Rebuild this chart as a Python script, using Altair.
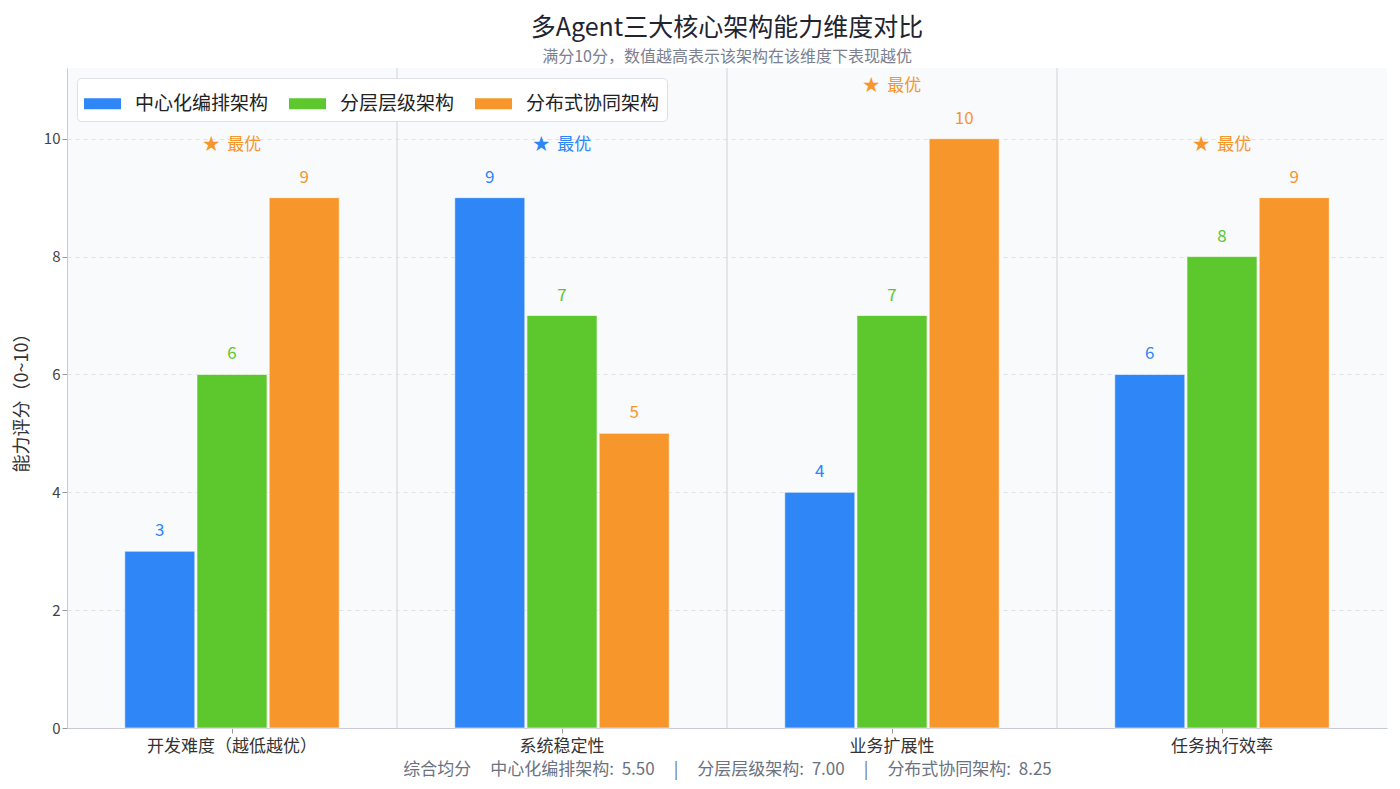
import altair as alt
import pandas as pd

dims = ["开发难度（越低越优）", "系统稳定性", "业务扩展性", "任务执行效率"]
archs = ["中心化编排架构", "分层层级架构", "分布式协同架构"]
colors = ["#2E86F7", "#5DC72E", "#F7962A"]
centralized = [3, 9, 4, 6]
hierarchical = [6, 7, 7, 8]
distributed = [9, 5, 10, 9]

series = [centralized, hierarchical, distributed]
rows = []
for a, vals in zip(archs, series):
    for d, v in zip(dims, vals):
        rows.append({"dim": d, "arch": a, "score": v})
df = pd.DataFrame(rows)

NB = "\u00a0"
best = []
for i, d in enumerate(dims):
    vals = [s[i] for s in series]
    k = vals.index(max(vals))
    best.append({"dim": d, "top": max(vals) + 0.9, "label": "★" + NB * 2 + "最优", "arch": archs[k]})
best_df = pd.DataFrame(best)

# 综合均分
means = [sum(s) / len(s) for s in series]
sep = NB * 5 + "|" + NB * 5
footer = "综合均分" + NB * 5 + sep.join(f"{a}:{NB * 2}{m:.2f}" for a, m in zip(archs, means))

FONT = "Noto Sans CJK SC"
color_scale = alt.Scale(domain=archs, range=colors)
x_enc = alt.X("dim:N", sort=dims, scale=alt.Scale(paddingInner=0, paddingOuter=0),
              axis=alt.Axis(title=footer, labelAngle=0, labelAlign="center", labelBaseline="top",
                            labelFontSize=17, labelColor="#333",
                            titleFontSize=17, titleColor="#6b7280", titleFontWeight="normal",
                            titlePadding=7, domainColor="#c8ccd2", tickColor="#999",
                            labelPadding=5, grid=False))
y_scale = alt.Scale(domain=[0, 11.2], nice=False)

base = alt.Chart(df)

bars = base.mark_bar(stroke="#ffffff", strokeWidth=1, strokeOpacity=0.6).encode(
    x=x_enc,
    xOffset=alt.XOffset("arch:N", sort=archs,
                        scale=alt.Scale(paddingInner=0.03, paddingOuter=0.8)),
    y=alt.Y("score:Q", scale=y_scale,
            axis=alt.Axis(title="能力评分（0~10）", values=[0, 2, 4, 6, 8, 10], format="d",
                          titleFontSize=18, titleColor="#333", titleFontWeight="normal",
                          labelFontSize=15, labelColor="#444", gridDash=[4, 4],
                          gridColor="#dde1e6", domainColor="#c8ccd2", tickColor="#999",
                          titlePadding=12)),
    color=alt.Color("arch:N", sort=archs, scale=color_scale,
                    legend=alt.Legend(title=None, orient="top-left", direction="horizontal",
                                      labelFontSize=19, labelColor="#222", labelFont=FONT,
                                      symbolType="M-1,-0.3H1V0.3H-1Z", symbolSize=1369,
                                      symbolOpacity=1, symbolStrokeWidth=0,
                                      labelOffset=14, columnPadding=20,
                                      fillColor="#ffffff", strokeColor="#dde1e6",
                                      cornerRadius=4, padding=7, offset=10)),
)

labels = base.mark_text(dy=-20, fontSize=17, font=FONT).encode(
    x=alt.X("dim:N", sort=dims),
    xOffset=alt.XOffset("arch:N", sort=archs),
    y=alt.Y("score:Q", scale=y_scale),
    text=alt.Text("score:Q"),
    color=alt.Color("arch:N", sort=archs, scale=color_scale, legend=None),
)

stars = alt.Chart(best_df).mark_text(fontSize=17, font=FONT).encode(
    x=alt.X("dim:N", sort=dims),
    y=alt.Y("top:Q", scale=y_scale),
    text="label:N",
    color=alt.Color("arch:N", sort=archs, scale=color_scale, legend=None),
)

seps = alt.Chart(pd.DataFrame({"dim": dims[:-1]})).mark_rule(color="#dde1e6", strokeWidth=1.5).encode(
    x=alt.X("dim:N", sort=dims, bandPosition=1),
)

chart = alt.layer(seps, bars, labels, stars).properties(
    width=1384,
    height=773,
    autosize=alt.AutoSizeParams(type="fit", contains="padding"),
    title=alt.TitleParams(
        text="多Agent三大核心架构能力维度对比",
        subtitle="满分10分，数值越高表示该架构在该维度下表现越优",
        fontSize=25, fontWeight="normal", color="#1f2430", font=FONT,
        subtitleFontSize=16, subtitleColor="#7a8090", subtitleFont=FONT,
        subtitlePadding=8, offset=2,
    ),
).configure(font=FONT, padding={"top": 8, "left": 5, "right": 5, "bottom": 4}).configure_view(
    fill="#f8fafc", stroke=None
).configure_axis(
    labelFont=FONT, titleFont=FONT
)

chart.save("out.html", embed_options={"renderer": "svg", "actions": False})
